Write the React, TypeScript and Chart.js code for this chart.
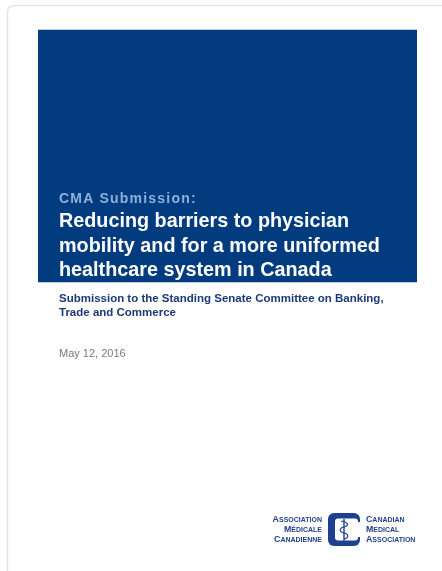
import React, { useEffect, useRef } from "react";
import { Chart, registerables } from "chart.js";

Chart.register(...registerables);

// ---- data (page units, top = 0) ----
const categories = ["Cover band"];
const bandRange: [number, number][] = [[30, 282]];
const kicker = "CMA Submission:";
const titleLines = [
  "Reducing barriers to physician",
  "mobility and for a more uniformed",
  "healthcare system in Canada",
];
const subtitleLines = [
  "Submission to the Standing Senate Committee on Banking,",
  "Trade and Commerce",
];
const dateText = "May 12, 2016";
const logoLeft = ["Association", "Médicale", "Canadienne"];
const logoRight = ["Canadian", "Medical", "Association"];

const FONT = '"Liberation Sans", Arial, Helvetica, sans-serif';

function drawCaps(
  ctx: CanvasRenderingContext2D,
  word: string,
  x: number,
  y: number,
  align: "left" | "right",
  big: number,
  small: number
) {
  const first = word[0].toUpperCase();
  const rest = word.slice(1).toUpperCase();
  ctx.textAlign = "left";
  ctx.font = `bold ${big}px ${FONT}`;
  const w1 = ctx.measureText(first).width;
  ctx.font = `bold ${small}px ${FONT}`;
  const w2 = ctx.measureText(rest).width;
  const total = w1 + w2;
  const x0 = align === "left" ? x : x - total;
  ctx.font = `bold ${big}px ${FONT}`;
  ctx.fillText(first, x0, y);
  ctx.font = `bold ${small}px ${FONT}`;
  ctx.fillText(rest, x0 + w1, y);
}

const coverPlugin = {
  id: "cover",
  beforeDraw(chart: any) {
    const { ctx, width, height } = chart;
    ctx.save();
    ctx.fillStyle = "#ffffff";
    ctx.fillRect(0, 0, width, height);
    // card outline (left & top edges visible)
    ctx.strokeStyle = "#e4e6e8";
    ctx.lineWidth = 1.5;
    const r = 7;
    ctx.beginPath();
    ctx.moveTo(7.5, height + 5);
    ctx.lineTo(7.5, 5.5 + r);
    ctx.quadraticCurveTo(7.5, 5.5, 7.5 + r, 5.5);
    ctx.lineTo(width + 5, 5.5);
    ctx.stroke();
    ctx.restore();
  },
  afterDatasetsDraw(chart: any) {
    const { ctx } = chart;
    const bar = chart.getDatasetMeta(0).data[0];
    const left = bar.x - bar.width / 2;
    const tx = left + 21;
    ctx.save();
    ctx.textBaseline = "alphabetic";
    ctx.textAlign = "left";

    // kicker
    ctx.fillStyle = "#8db0dc";
    ctx.font = `bold 14px ${FONT}`;
    (ctx as any).letterSpacing = "1.2px";
    ctx.fillText(kicker, tx, 203);
    (ctx as any).letterSpacing = "0px";

    // title
    ctx.fillStyle = "#ffffff";
    ctx.font = `bold 19.8px ${FONT}`;
    titleLines.forEach((t, i) => ctx.fillText(t, tx, 227 + i * 24.5));

    // subtitle
    ctx.fillStyle = "#1d3a78";
    ctx.font = `bold 11.5px ${FONT}`;
    subtitleLines.forEach((t, i) => ctx.fillText(t, tx, 302 + i * 13.5));

    // date
    ctx.fillStyle = "#7a7a7a";
    ctx.font = `11px ${FONT}`;
    ctx.fillText(dateText, tx, 357);

    // logo text
    ctx.fillStyle = "#23428e";
    logoLeft.forEach((t, i) => drawCaps(ctx, t, 322, 522 + i * 10, "right", 8.8, 7));
    logoRight.forEach((t, i) => drawCaps(ctx, t, 366, 522 + i * 10, "left", 8.8, 7));

    // logo mark: square "C"
    const bx = 328, by = 513, bw = 32, bh = 33;
    ctx.fillStyle = "#1f3f8f";
    ctx.beginPath();
    (ctx as any).roundRect(bx, by, bw, bh, 6);
    ctx.fill();
    ctx.fillStyle = "#ffffff";
    ctx.beginPath();
    (ctx as any).roundRect(bx + 7, by + 5.5, bw - 9, bh - 11, 3);
    ctx.fill();
    ctx.fillRect(bx + 22, by + 9, 12, bh - 18);
    // caduceus
    ctx.strokeStyle = "#1f3f8f";
    ctx.lineWidth = 1.4;
    const cx = bx + 16;
    ctx.beginPath();
    ctx.moveTo(cx, by + 6);
    ctx.lineTo(cx, by + bh - 5);
    ctx.stroke();
    ctx.lineWidth = 1.2;
    ctx.beginPath();
    ctx.moveTo(cx - 3, by + 8);
    ctx.bezierCurveTo(cx + 5, by + 9, cx + 5, by + 13, cx, by + 14);
    ctx.bezierCurveTo(cx - 5, by + 15, cx - 5, by + 19, cx, by + 20);
    ctx.bezierCurveTo(cx + 5, by + 21, cx + 5, by + 25, cx, by + 26);
    ctx.stroke();
    ctx.restore();
  },
};

export default function App() {
  const ref = useRef<HTMLCanvasElement | null>(null);
  useEffect(() => {
    if (!ref.current) return;
    const chart = new Chart(ref.current, {
      type: "bar",
      data: {
        labels: categories,
        datasets: [
          {
            data: bandRange as any,
            backgroundColor: "#023b7e",
            borderWidth: 0,
            barPercentage: 1,
            categoryPercentage: 1,
          },
        ],
      },
      options: {
        responsive: false,
        animation: false,
        devicePixelRatio: 1,
        layout: { padding: { left: 38, right: 25, top: 0, bottom: 0 } },
        plugins: { legend: { display: false }, tooltip: { enabled: false }, title: { display: false } },
        scales: {
          x: { display: false, offset: true },
          y: { display: false, min: 0, max: 571, reverse: true },
        },
      },
      plugins: [coverPlugin],
    });
    return () => chart.destroy();
  }, []);
  return (
    <div style={{ position: "absolute", left: 0, top: 0, width: 442, height: 571 }}>
      <canvas ref={ref} width={442} height={571} style={{ display: "block", width: 442, height: 571 }} />
    </div>
  );
}
